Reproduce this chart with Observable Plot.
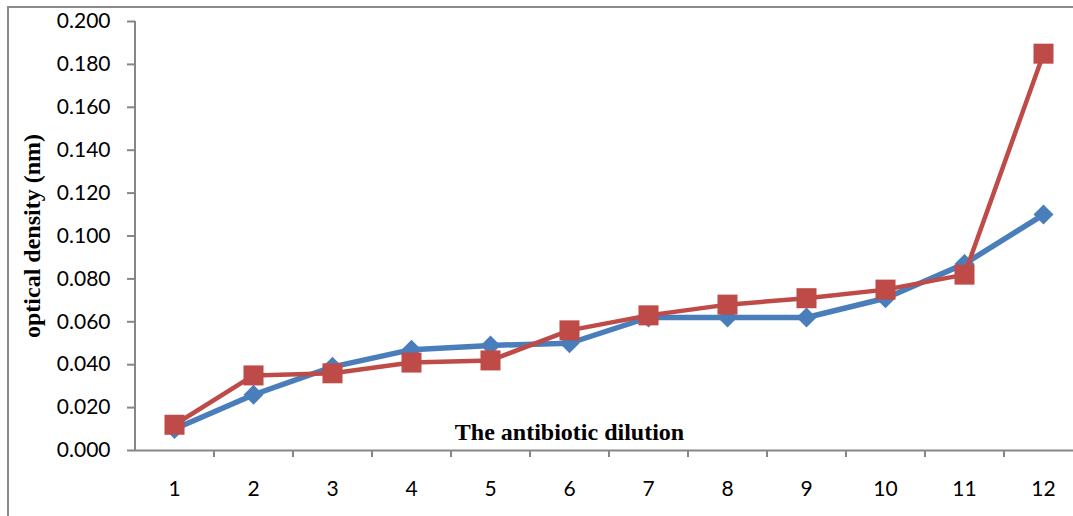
<!DOCTYPE html>
<html>
<head>
<meta charset="utf-8">
<script src="https://cdn.jsdelivr.net/npm/d3@7"></script>
<script src="https://cdn.jsdelivr.net/npm/@observablehq/plot@0.6"></script>
<style>
  html, body { margin: 0; padding: 0; background: #fff; overflow: hidden; width: 1073px; height: 516px; }
  #wrap { position: relative; width: 1073px; height: 516px; overflow: hidden; }
  #border { position: absolute; left: 7px; top: 6px; width: 1100px; height: 600px; border-left: 2px solid #8a8a8a; border-top: 2px solid #8a8a8a; pointer-events: none; }
  #chart { position: absolute; left: 0; top: 0; }
</style>
</head>
<body>
<div id="wrap"><div id="chart"></div><div id="border"></div></div>
<script>
const categories = [1, 2, 3, 4, 5, 6, 7, 8, 9, 10, 11, 12];
const seriesBlue = [0.010, 0.026, 0.039, 0.047, 0.049, 0.050, 0.062, 0.062, 0.062, 0.071, 0.087, 0.110];
const seriesRed  = [0.012, 0.035, 0.036, 0.041, 0.042, 0.056, 0.063, 0.068, 0.071, 0.075, 0.082, 0.185];
const yTicks = [0, 0.02, 0.04, 0.06, 0.08, 0.10, 0.12, 0.14, 0.16, 0.18, 0.20];
const xTitle = "The antibiotic dilution";
const yTitle = "optical density (nm)";

const blueRows = categories.map((c, i) => ({x: c, y: seriesBlue[i]}));
const redRows = categories.map((c, i) => ({x: c, y: seriesRed[i]}));
const bandEdges = categories.slice(0, -1).map(c => c + 0.5);

const BLUE = "#4a7ebb", RED = "#be4b48", GRAY = "#868686";
const labelFont = "Lato, 'Open Sans', sans-serif";
const titleFont = "'Liberation Serif', 'DejaVu Serif', serif";

const chart = Plot.plot({
  width: 1073,
  height: 516,
  marginLeft: 135,
  marginRight: 0,
  marginTop: 21,
  marginBottom: 66,
  style: {background: "transparent", overflow: "hidden"},
  x: {type: "linear", domain: [0.5, 12.5], range: [134.5, 1082.5]},
  y: {type: "linear", domain: [0, 0.2]},
  marks: [
    // y axis
    Plot.axisY({ticks: yTicks, tickFormat: d3.format(".3f"), tickSize: 8, tickPadding: 17,
      stroke: GRAY, strokeWidth: 2, fontSize: 21, fontFamily: labelFont, fill: "#000", label: null}),
    Plot.ruleX([0.5], {stroke: GRAY, strokeWidth: 2, y1: 0, y2: 0.2}),
    // x axis: labels, and separator ticks between categories
    Plot.axisX({ticks: categories, tickSize: 0, tickPadding: 31, fontSize: 21,
      fontFamily: labelFont, fill: "#000", label: null}),
    Plot.axisX({ticks: bandEdges, tickSize: 7, tickFormat: () => "", stroke: GRAY, strokeWidth: 2, label: null}),
    Plot.ruleY([0], {stroke: GRAY, strokeWidth: 2}),
    // titles
    Plot.text([xTitle], {frameAnchor: "bottom", lineAnchor: "middle", textAnchor: "middle", dx: -35, dy: -18,
      fontSize: 24, fontWeight: "bold", fontFamily: titleFont, fill: "#000"}),
    Plot.text([yTitle], {frameAnchor: "left", lineAnchor: "middle", textAnchor: "middle", dx: -103, rotate: -90,
      fontSize: 24, fontWeight: "bold", fontFamily: titleFont, fill: "#000"}),
    // series 1 (blue, diamonds)
    Plot.line(blueRows, {x: "x", y: "y", stroke: BLUE, strokeWidth: 5.5, strokeLinejoin: "round"}),
    Plot.dot(blueRows, {x: "x", y: "y", symbol: "diamond2", r: 9, fill: BLUE, stroke: "none"}),
    // series 2 (red, squares)
    Plot.line(redRows, {x: "x", y: "y", stroke: RED, strokeWidth: 4.5, strokeLinejoin: "round"}),
    Plot.dot(redRows, {x: "x", y: "y", symbol: "square", r: 11.3, fill: RED, stroke: "none"})
  ]
});
document.getElementById("chart").appendChild(chart);
</script>
</body>
</html>
